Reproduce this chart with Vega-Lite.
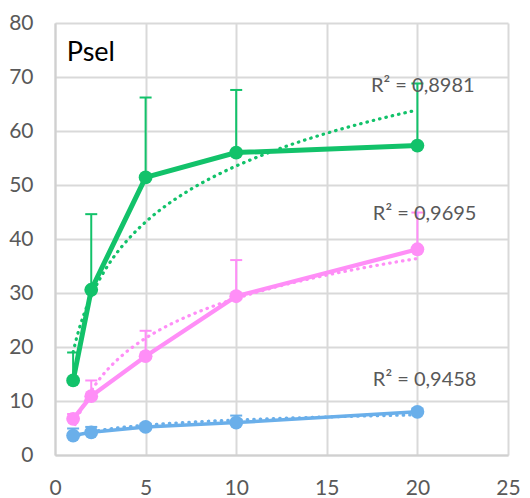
{
  "$schema": "https://vega.github.io/schema/vega-lite/v6.json",
  "width": 453,
  "height": 432,
  "autosize": {"type": "none"},
  "padding": {"left": 55, "top": 23, "right": 22, "bottom": 43},
  "background": "white",
  "config": {
    "view": {"stroke": null},
    "font": "Lato",
    "axis": {
      "gridColor": "#d9d9d9",
      "gridWidth": 2,
      "domainColor": "#d0d0d0",
      "domainWidth": 2,
      "ticks": false,
      "labelColor": "#595959",
      "labelFontSize": 21,
      "labelFont": "Lato",
      "labelFlush": false,
      "labelOverlap": false,
      "title": null
    }
  },
  "datasets": {
    "pts": [
      {"series": "green", "x": 1, "y": 13.8, "top": 19.0},
      {"series": "green", "x": 2, "y": 30.6, "top": 44.6},
      {"series": "green", "x": 5, "y": 51.4, "top": 66.2},
      {"series": "green", "x": 10, "y": 56.0, "top": 67.6},
      {"series": "green", "x": 20, "y": 57.3, "top": 68.8},
      {"series": "pink", "x": 1, "y": 6.7, "top": 7.6},
      {"series": "pink", "x": 2, "y": 10.9, "top": 13.8},
      {"series": "pink", "x": 5, "y": 18.3, "top": 23.0},
      {"series": "pink", "x": 10, "y": 29.4, "top": 36.1},
      {"series": "pink", "x": 20, "y": 38.1, "top": 44.9},
      {"series": "blue", "x": 1, "y": 3.6, "top": 4.9},
      {"series": "blue", "x": 2, "y": 4.2, "top": 5.2},
      {"series": "blue", "x": 5, "y": 5.2, "top": 5.8},
      {"series": "blue", "x": 10, "y": 6.0, "top": 7.3},
      {"series": "blue", "x": 20, "y": 8.0, "top": 8.6}
    ],
    "labels": [
      {"x": 20.3, "y": 68.4, "label": "R² = 0,8981"},
      {"x": 20.4, "y": 44.7, "label": "R² = 0,9695"},
      {"x": 20.4, "y": 13.8, "label": "R² = 0,9458"}
    ],
    "title": [{"x": 0.65, "y": 74.5, "label": "Psel"}]
  },
  "layer": [
    {
      "data": {"name": "pts"},
      "transform": [{"regression": "y", "on": "x", "method": "log", "groupby": ["series"]}],
      "mark": {"type": "line", "strokeWidth": 3.2, "strokeDash": [0.5, 6], "strokeCap": "round"},
      "encoding": {
        "x": {"field": "x", "type": "quantitative", "scale": {"domain": [0, 25], "nice": false}, "axis": {"values": [0, 5, 10, 15, 20, 25], "labelPadding": 22}},
        "y": {"field": "y", "type": "quantitative", "scale": {"domain": [0, 80], "nice": false}, "axis": {"values": [0, 10, 20, 30, 40, 50, 60, 70, 80], "labelPadding": 22}},
        "color": {"field": "series", "type": "nominal", "scale": {"domain": ["green", "pink", "blue"], "range": ["#12C26A", "#FF8EF7", "#6AAFEA"]}, "legend": null},
        "detail": {"field": "series"}
      }
    },
    {
      "data": {"name": "pts"},
      "mark": {"type": "rule", "strokeWidth": 2},
      "encoding": {
        "x": {"field": "x", "type": "quantitative"},
        "y": {"field": "y", "type": "quantitative"},
        "y2": {"field": "top"},
        "color": {"field": "series", "type": "nominal", "legend": null}
      }
    },
    {
      "data": {"name": "pts"},
      "mark": {"type": "tick", "orient": "horizontal", "size": 12, "thickness": 2, "opacity": 1},
      "encoding": {
        "x": {"field": "x", "type": "quantitative"},
        "y": {"field": "top", "type": "quantitative"},
        "color": {"field": "series", "type": "nominal", "legend": null}
      }
    },
    {
      "data": {"name": "pts"},
      "mark": {"type": "line"},
      "encoding": {
        "x": {"field": "x", "type": "quantitative"},
        "y": {"field": "y", "type": "quantitative"},
        "color": {"field": "series", "type": "nominal", "legend": null},
        "strokeWidth": {"field": "series", "type": "nominal", "scale": {"domain": ["green", "pink", "blue"], "range": [5, 3.5, 5]}, "legend": null}
      }
    },
    {
      "data": {"name": "pts"},
      "mark": {"type": "circle", "size": 190, "opacity": 1},
      "encoding": {
        "x": {"field": "x", "type": "quantitative"},
        "y": {"field": "y", "type": "quantitative"},
        "color": {"field": "series", "type": "nominal", "legend": null}
      }
    },
    {
      "data": {"name": "labels"},
      "mark": {"type": "text", "fontSize": 20, "color": "#595959", "align": "center", "baseline": "middle", "font": "Lato"},
      "encoding": {
        "x": {"field": "x", "type": "quantitative"},
        "y": {"field": "y", "type": "quantitative"},
        "text": {"field": "label"}
      }
    },
    {
      "data": {"name": "title"},
      "mark": {"type": "text", "fontSize": 27, "color": "#000000", "align": "left", "baseline": "middle", "font": "Lato"},
      "encoding": {
        "x": {"field": "x", "type": "quantitative"},
        "y": {"field": "y", "type": "quantitative"},
        "text": {"field": "label"}
      }
    }
  ]
}
